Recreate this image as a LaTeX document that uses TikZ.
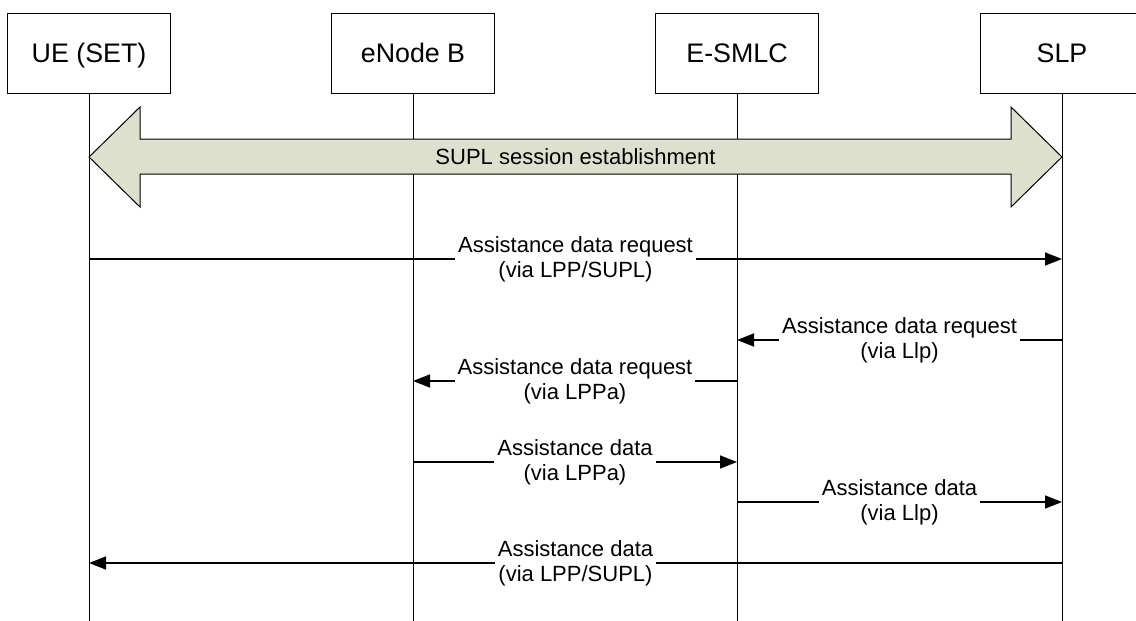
\documentclass[tikz,border=0pt]{standalone}
\usepackage{fontspec}
\setmainfont{Liberation Sans}
\usetikzlibrary{calc}
\usetikzlibrary{arrows.meta}
\definecolor{suplfill}{RGB}{221,224,204}

\begin{document}
\begin{tikzpicture}[x=0.5pt, y=-0.5pt,
    entity/.style={draw, line width=0.5pt, minimum width=81.5pt, minimum height=40pt,
        text height=9.6pt, text depth=0pt, font=\fontsize{13.4}{15}\selectfont},
    life/.style={line width=0.5pt},
    msg/.style={line width=0.8pt, -{Triangle[length=8.5pt, width=6.5pt]}},
    lbl/.style={fill=white, inner sep=1.5pt, align=center, font=\fontsize{11}{12.5}\selectfont}]

        % Page frame
        \useasboundingbox (0,0) rectangle (1136,621);

        % Entities
        \node[entity] (ue) at (89,53) {UE (SET)};
        \node[entity] (enb) at (413,53) {eNode B};
        \node[entity] (smlc) at (737,53) {E-SMLC};
        \node[entity] (slp) at (1062,53) {SLP};

        % Rows of the messages
        \coordinate (bottom) at (0,621);
        \coordinate (sess) at (0,157);
        \foreach \r/\y in {1/259, 2/340, 3/381, 4/462, 5/502, 6/563}
            \coordinate (row\r) at (0,\y);

        % Lifelines
        \foreach \n in {ue, enb, smlc, slp}
            \draw[life] (\n.south) -- (\n |- bottom);

        % SUPL session establishment
        \draw[line width=0.5pt, fill=suplfill] (ue |- sess) -- ++(51,-50) -- ++(0,32)
            -- ($(slp |- sess)+(-51,-18)$) -- ++(0,-32) -- (slp |- sess) -- ++(-51,50)
            -- ++(0,-33) -- ($(ue |- sess)+(51,17)$) -- ++(0,33) -- cycle;
        \node[font=\fontsize{11}{12.5}\selectfont] (sessl) at ($(ue |- sess)!0.5!(slp |- sess)$) {SUPL session establishment};

        % Messages
        \draw[msg] (ue |- row1) -- node[lbl] (m1) {Assistance data request\\(via LPP/SUPL)} (slp |- row1);
        \draw[msg] (slp |- row2) -- node[lbl] (m2) {Assistance data request\\(via Llp)} (smlc |- row2);
        \draw[msg] (smlc |- row3) -- node[lbl] (m3) {Assistance data request\\(via LPPa)} (enb |- row3);
        \draw[msg] (enb |- row4) -- node[lbl] (m4) {Assistance data\\(via LPPa)} (smlc |- row4);
        \draw[msg] (smlc |- row5) -- node[lbl] (m5) {Assistance data\\(via Llp)} (slp |- row5);
        \draw[msg] (slp |- row6) -- node[lbl] (m6) {Assistance data\\(via LPP/SUPL)} (ue |- row6);
    \end{tikzpicture}
\end{document}
